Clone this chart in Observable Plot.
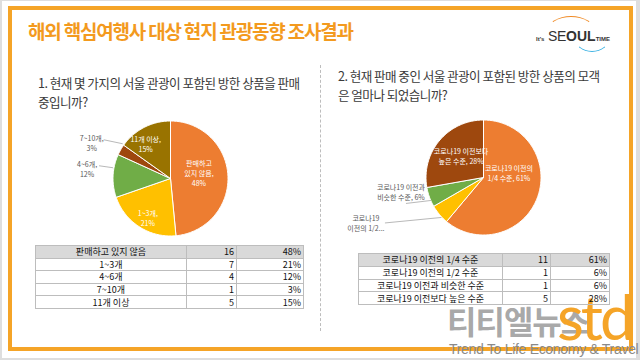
<!DOCTYPE html>
<html><head><meta charset="utf-8">
<script src="https://cdn.jsdelivr.net/npm/d3@7"></script>
<script src="https://cdn.jsdelivr.net/npm/@observablehq/plot@0.6"></script>
<style>
body{margin:0;background:#fff;}
#slide{position:relative;width:640px;height:360px;background:#dedede;overflow:hidden;font-family:"Noto Sans CJK KR","Noto Sans",sans-serif;}
.abs{position:absolute;}
.tbl{position:absolute;border-collapse:collapse;table-layout:fixed;font-size:9px;color:#111;font-family:"Noto Sans CJK KR",sans-serif;}
.tbl td{border:1px solid #bdbdbd;padding:0 2px;line-height:1;white-space:nowrap;overflow:hidden;}
.tbl td.c{text-align:center;}
.tbl td.r{text-align:right;}
.tbl tr.h td{background:#d9d9d9;}
.q{position:absolute;font-size:12.6px;color:#3a3a3a;line-height:19px;letter-spacing:-0.55px;white-space:nowrap;}
</style></head><body>
<div id="slide">
  <div class="abs" style="left:2px;top:1px;width:634px;height:357px;background:#fff;"></div>
  <div class="abs" style="left:8px;top:6px;width:625px;height:345px;border:4px solid #F5A427;box-sizing:border-box;"></div>
  <div class="abs" id="title" style="left:28px;top:17px;font-size:19px;font-weight:700;color:#F39A1E;white-space:nowrap;letter-spacing:-1.2px;">해외 핵심여행사 대상 현지 관광동향 조사결과</div>
  <div class="abs" style="left:547px;top:16px;width:48px;height:30px;box-sizing:border-box;border:1.6px solid transparent;border-top-color:#F08A24;border-radius:50%;"></div>
  <div class="abs" style="left:574px;top:22px;width:36px;height:30px;box-sizing:border-box;border:1.6px solid transparent;border-bottom-color:#3DB2E3;border-radius:50%;"></div>
  <div class="abs" style="left:536px;top:27px;white-space:nowrap;color:#333;font-family:'Liberation Sans',sans-serif;">
    <span style="font-size:6px;font-weight:700;">It's</span><span style="font-size:14px;font-weight:400;letter-spacing:-0.3px;"> SE</span><span style="font-size:14px;font-weight:700;">OUL</span><span style="font-size:6px;font-weight:700;">TIME</span>
  </div>
  <div class="abs" style="left:320px;top:65px;height:266px;border-left:1px dashed #bdbdbd;"></div>
  <div class="q" style="left:38px;top:73px;">1. 현재 몇 가지의 서울 관광이 포함된 방한 상품을 판매<br>중입니까?</div>
  <div class="q" style="left:338px;top:66px;">2. 현재 판매 중인 서울 관광이 포함된 방한 상품의 모객<br>은 얼마나 되었습니까?</div>
  <div class="abs" id="pie1"></div>
  <div class="abs" id="pie2"></div>
  <div class="abs" style="left:447px;top:297px;font-size:32px;font-weight:700;color:rgba(130,130,130,0.7);white-space:nowrap;letter-spacing:-1px;">티티엘뉴스</div>
  <div class="abs" style="left:557px;top:279px;font-size:62px;font-weight:400;color:#F5A427;font-family:Lato,sans-serif;letter-spacing:-3px;white-space:nowrap;">std</div>
  <div class="abs" style="left:449px;top:341px;font-size:14px;color:#8a8a8a;font-family:'Liberation Sans',sans-serif;white-space:nowrap;letter-spacing:-0.3px;">Trend To Life Economy &amp; Travel</div>
</div>
<script>
// ---- data ----
const q1Categories = ["판매하고 있지 않음", "1~3개", "4~6개", "7~10개", "11개 이상"];
const q1Counts = [16, 7, 4, 1, 5];
const q1Percents = ["48%", "21%", "12%", "3%", "15%"];
const q1PieLabels = ["판매하고\n있지 않음,\n48%", "1~3개,\n21%", "4~6개,\n12%", "7~10개,\n3%", "11개 이상,\n15%"];
const q1Colors = ["#ED7D31", "#FFC000", "#70AD47", "#9E480E", "#997300"];

const q2Categories = ["코로나19 이전의 1/4 수준", "코로나19 이전의 1/2 수준", "코로나19 이전과 비슷한 수준", "코로나19 이전보다 높은 수준"];
const q2Counts = [11, 1, 1, 5];
const q2Percents = ["61%", "6%", "6%", "28%"];
const q2PieLabels = ["코로나19 이전의\n1/4 수준, 61%", "코로나19\n이전의 1/2...", "코로나19 이전과\n비슷한 수준, 6%", "코로나19 이전보다\n높은 수준, 28%"];
const q2Colors = ["#ED7D31", "#FFC000", "#70AD47", "#9E480E"];

// ---- layout (label placement, not data) ----
const K = 57.5; // pie radius in px
const q1Layout = [
  {inside: true, r: 0.6, dx: -6, dy: -4},
  {inside: true, r: 0.6, dx: -4, dy: 10},
  {inside: false, r: 1, dx: -26, dy: -7, lead: [12, -3, 0, -8]},
  {inside: false, r: 1, dx: -29, dy: -7, lead: [12, -3, 2, -6]},
  {inside: true, r: 0.6, dx: -9, dy: -4}
];
const q2Layout = [
  {inside: true, r: 0.6, dx: -7, dy: -16.5},
  {inside: false, r: 1, dx: -73.5, dy: 8.5, lead: [19, 0, 2, 3]},
  {inside: false, r: 1, dx: -28.5, dy: -5.7, lead: [5, 12, 1.5, 3.3]},
  {inside: true, r: 0.6, dx: 4, dy: 0}
];

function polar(a, r) { return [Math.sin(a) * r, Math.cos(a) * r]; }

function pieChart({cats, counts, labels, colors, layout, halfW, halfH}) {
  const arcs = d3.pie().sort(null).value(d => d)(counts);
  const pts = [];
  arcs.forEach((a, i) => {
    const n = Math.max(2, Math.ceil((a.endAngle - a.startAngle) / (Math.PI / 120)));
    pts.push({cat: cats[i], x: 0, y: 0});
    for (let j = 0; j <= n; j++) {
      const t = a.startAngle + (a.endAngle - a.startAngle) * j / n;
      const [x, y] = polar(t, 1);
      pts.push({cat: cats[i], x, y});
    }
    pts.push({cat: cats[i], x: 0, y: 0});
  });
  const lab = arcs.map((a, i) => {
    const L = layout[i];
    const mid = (a.startAngle + a.endAngle) / 2;
    const [px, py] = polar(mid, L.r);
    const x = px + L.dx / K, y = py - L.dy / K;
    const o = {text: labels[i], x, y, inside: L.inside};
    if (L.lead) {
      const [rx, ry] = polar(mid, 1);
      o.x1 = x + L.lead[0] / K; o.y1 = y - L.lead[1] / K;
      o.x2 = rx + L.lead[2] / K; o.y2 = ry - L.lead[3] / K;
    }
    return o;
  });
  return Plot.plot({
    width: 2 * halfW, height: 2 * halfH, margin: 0,
    x: {domain: [-halfW / K, halfW / K], axis: null},
    y: {domain: [-halfH / K, halfH / K], axis: null},
    color: {domain: cats, range: colors},
    style: {fontFamily: "'Noto Sans CJK KR', sans-serif", background: "transparent", overflow: "visible"},
    marks: [
      Plot.line(pts, {x: "x", y: "y", z: "cat", fill: "cat", stroke: "white", strokeWidth: 1, strokeLinejoin: "round"}),
      Plot.link(lab.filter(d => d.x1 !== undefined), {x1: "x1", y1: "y1", x2: "x2", y2: "y2", stroke: "#a6a6a6", strokeWidth: 0.8}),
      Plot.text(lab.filter(d => d.inside), {x: "x", y: "y", text: "text", fill: "white", fontSize: 7, lineHeight: 1.45}),
      Plot.text(lab.filter(d => !d.inside), {x: "x", y: "y", text: "text", fill: "#595959", fontSize: 7, lineHeight: 1.45})
    ]
  });
}

function place(id, el, left, top) {
  const host = document.getElementById(id);
  host.style.left = left + "px"; host.style.top = top + "px";
  host.appendChild(el);
}

place("pie1", pieChart({cats: q1Categories, counts: q1Counts, labels: q1PieLabels, colors: q1Colors, layout: q1Layout, halfW: 110, halfH: 64}), 169.5 - 110, 178 - 64);
place("pie2", pieChart({cats: q2Categories, counts: q2Counts, labels: q2PieLabels, colors: q2Colors, layout: q2Layout, halfW: 150, halfH: 64}), 482.5 - 150, 177 - 64);

function makeTable(cats, counts, pcts, left, top, widths, rowH) {
  const t = d3.select("#slide").append("table").attr("class", "tbl")
    .style("left", left + "px").style("top", top + "px");
  const cg = t.append("colgroup");
  widths.forEach(w => cg.append("col").style("width", w + "px"));
  cats.forEach((c, i) => {
    const tr = t.append("tr").attr("class", i === 0 ? "h" : null).style("height", rowH + "px");
    tr.append("td").attr("class", "c").text(c);
    tr.append("td").attr("class", "r").text(counts[i]);
    tr.append("td").attr("class", "r").text(pcts[i]);
  });
}
makeTable(q1Categories, q1Counts, q1Percents, 35, 245, [151, 50, 67], 12.6);
makeTable(q2Categories, q2Counts, q2Percents, 358, 253, [144, 48, 59], 12.75);
</script>
</body></html>
